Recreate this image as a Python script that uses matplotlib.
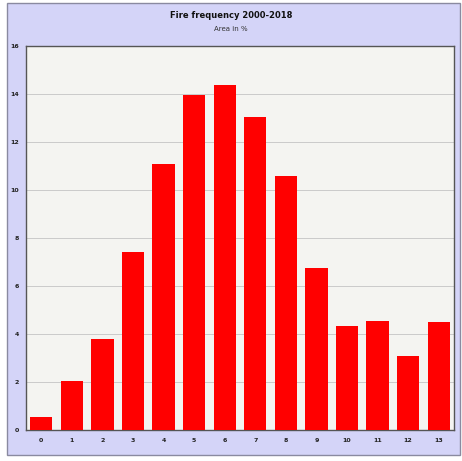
import matplotlib
matplotlib.use("Agg")
import matplotlib.pyplot as plt
from matplotlib.patches import Rectangle

categories = [str(i) for i in range(14)]
values = [0.54, 2.04, 3.8, 7.4, 11.1, 13.96, 14.38, 13.05, 10.57, 6.75, 4.33, 4.54, 3.08, 4.5]
y_ticks = [0, 2, 4, 6, 8, 10, 12, 14, 16]

W, H = 462, 461
fig = plt.figure(figsize=(W / 100, H / 100), dpi=100)
fig.patch.set_facecolor("white")

# lavender panel behind the chart
fig.add_artist(Rectangle((7 / W, 1 - 455 / H), (460 - 7) / W, (455 - 3) / H,
                         transform=fig.transFigure, facecolor="#d4d4f8",
                         edgecolor="#8a8aa0", linewidth=1.0, zorder=0))

ax = fig.add_axes([26 / W, 1 - 430 / H, (454 - 26) / W, (430 - 46) / H])
ax.set_facecolor("#f4f4f1")
ax.bar(range(len(values)), values, width=0.73, color="#ff0000", zorder=3)
ax.set_xlim(-0.5, len(values) - 0.5)
ax.set_ylim(0, 16)
ax.set_yticks(y_ticks)
ax.set_yticklabels([str(t) for t in y_ticks], fontsize=4.5, fontweight="bold", color="#222222")
ax.set_xticks(range(len(categories)))
ax.set_xticklabels(categories, fontsize=4.5, fontweight="bold", color="#222222")
ax.tick_params(axis="y", length=0, pad=5)
ax.tick_params(axis="x", length=0, pad=6)
ax.yaxis.grid(True, color="#c4c4c4", linewidth=0.6, zorder=1)
for s in ax.spines.values():
    s.set_color("#555555")
    s.set_linewidth(1.0)

fig.text(0.5, 1 - 16 / H, "Fire frequency 2000-2018", ha="center", va="center",
         fontsize=6, fontweight="bold", color="#111111")
fig.text(0.5, 1 - 29 / H, "Area in %", ha="center", va="center",
         fontsize=5, color="#333333")

fig.savefig("out.png", dpi=100)
